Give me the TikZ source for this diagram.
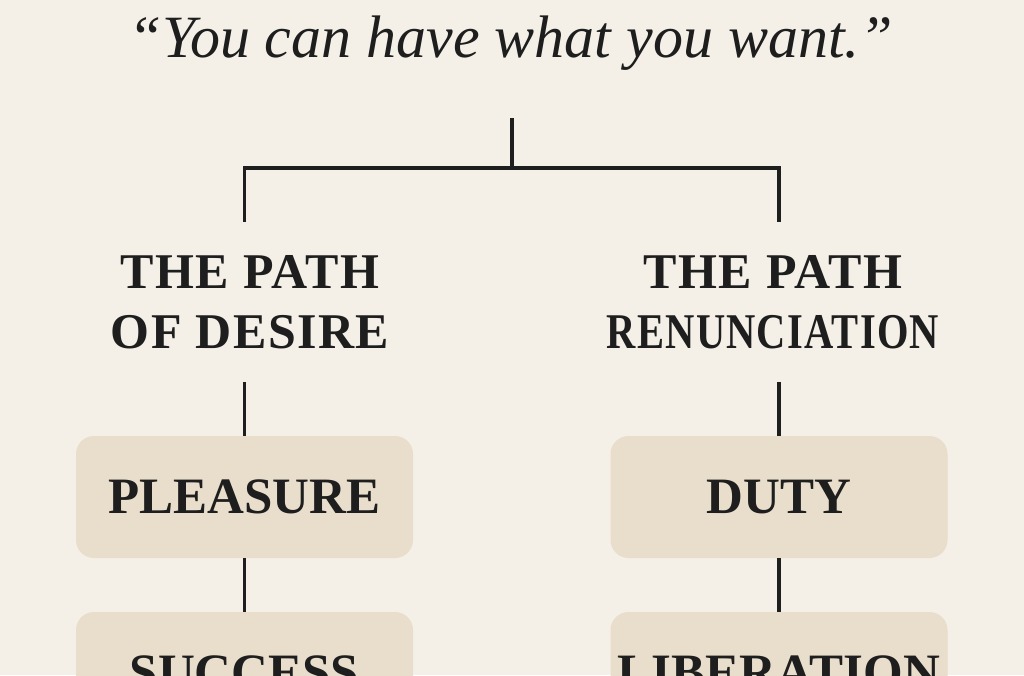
\documentclass[tikz,border=0pt]{standalone}
\usepackage{fontspec}
\setmainfont{Liberation Serif}
\newfontfamily\headfont[LetterSpace=3]{Liberation Serif}
\definecolor{bg}{HTML}{F4F0E8}
\definecolor{boxfill}{HTML}{E9DDCB}
\definecolor{ink}{HTML}{1E1E1E}
\begin{document}
\begin{tikzpicture}[x=1pt,y=1pt,
  conn/.style={draw=ink, line width=3.2pt},
  heading/.style={font=\headfont\bfseries\fontsize{50}{60}\selectfont, text=ink, align=center, minimum height=160pt, inner sep=0pt},
  stage/.style={fill=boxfill, rounded corners=18pt, minimum width=337pt, minimum height=122pt, inner sep=0pt, font=\bfseries\fontsize{51}{60}\selectfont, text=ink},
  title/.style={font=\itshape\fontsize{60}{72}\selectfont, text=ink, anchor=base}]
\useasboundingbox (0,0) rectangle (1024,-675);
\clip (0,0) rectangle (1024,-675);
\fill[bg] (0,0) rectangle (1024,-675);
\node[title] (title) at (511,-57) {“You can have what you want.”};
\coordinate (stem) at (512,-118);
\coordinate (split) at (512,-168);
\node[heading] (desire) at (250,-302) {THE PATH\\OF DESIRE};
\node[heading] (renun) at (773,-302) {THE PATH\\\scalebox{0.81}[1]{RENUNCIATION}};
\node[stage] (p1) at (244.5,-497) {PLEASURE};
\node[stage] (d1) at (779,-497) {DUTY};
\node[stage] (s1) at (244.5,-673) {SUCCESS};
\node[stage] (l1) at (779,-673) {LIBERATION};
\draw[conn] (stem) -- (split);
\draw[conn] (split) -| (desire.north -| p1.north);
\draw[conn] (split) -| (renun.north -| d1.north);
\draw[conn] (desire.south -| p1.north) -- (p1.north);
\draw[conn] (renun.south -| d1.north) -- (d1.north);
\draw[conn] (p1.south) -- (s1.north);
\draw[conn] (d1.south) -- (l1.north);
\end{tikzpicture}
\end{document}
